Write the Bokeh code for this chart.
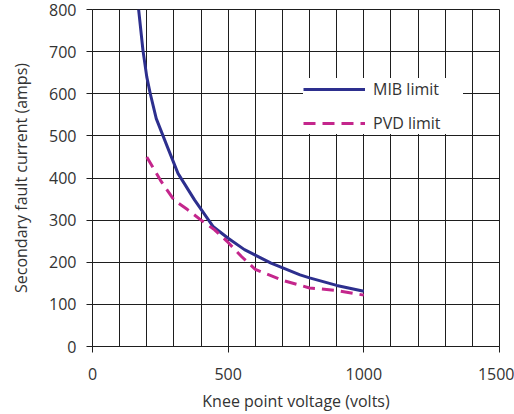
from bokeh.plotting import figure
from bokeh.models import Range1d, SingleIntervalTicker, Legend, LegendItem
from bokeh.embed import file_html
from bokeh.resources import INLINE

# Data
mib_x = [170, 186, 200, 213, 235, 276, 315, 376, 444, 500, 560, 658, 765, 800, 900, 1000]
mib_y = [800, 703, 640, 600, 541, 474, 411, 348, 285, 257, 230, 198, 170, 163, 145, 131]

pvd_x = [200, 250, 300, 350, 400, 450, 500, 550, 600, 700, 800, 900, 1000]
pvd_y = [450, 395, 348, 325, 300, 277, 247, 213, 183, 157, 139, 133, 122]

x_label = "Knee point voltage (volts)"
y_label = "Secondary fault current (amps)"
series_names = ["MIB limit", "PVD limit"]

FONT = "Open Sans"
TXT = "#333333"
GRID = "#1e1e1e"

p = figure(width=514, height=414,
           min_border_left=92, min_border_right=15, min_border_top=9, min_border_bottom=68,
           x_range=Range1d(0, 1500), y_range=Range1d(0, 800),
           output_backend="svg", toolbar_location=None)

p.xaxis.ticker = SingleIntervalTicker(interval=500, num_minor_ticks=5)
p.yaxis.ticker = SingleIntervalTicker(interval=100)

for ax in (p.xaxis[0], p.yaxis[0]):
    ax.axis_line_color = GRID
    ax.major_tick_line_color = GRID
    ax.major_tick_out = 6
    ax.major_tick_in = 0
    ax.minor_tick_line_color = None
    ax.major_label_text_font = FONT
    ax.major_label_text_font_size = "16px"
    ax.major_label_text_color = TXT
    ax.axis_label_text_font = FONT
    ax.axis_label_text_font_size = "16px"
    ax.axis_label_text_font_style = "normal"
    ax.axis_label_text_color = TXT

p.xaxis.axis_label = x_label
p.yaxis.axis_label = y_label
p.xaxis.major_label_standoff = 15
p.xaxis.axis_label_standoff = 7
p.yaxis.major_label_standoff = 10
p.yaxis.axis_label_standoff = 14

p.xgrid.grid_line_color = GRID
p.xgrid.minor_grid_line_color = GRID
p.ygrid.grid_line_color = GRID
p.xgrid.grid_line_alpha = 1
p.ygrid.grid_line_alpha = 1
p.outline_line_color = GRID
p.outline_line_alpha = 1

r1 = p.line(mib_x, mib_y, line_color="#2d2f8e", line_width=3)
r2 = p.line(pvd_x, pvd_y, line_color="#c4268c", line_width=3, line_dash="12 7")

legend = Legend(items=[LegendItem(label=series_names[0], renderers=[r1]),
                       LegendItem(label=series_names[1], renderers=[r2])],
                location=(211, 212))
legend.background_fill_color = "white"
legend.background_fill_alpha = 1
legend.border_line_color = None
legend.padding = 17
legend.margin = 0
legend.spacing = 12
legend.glyph_width = 62
legend.glyph_height = 20
legend.label_height = 20
legend.label_width = 90
legend.label_standoff = 8
legend.label_text_font = FONT
legend.label_text_font_size = "16px"
legend.label_text_color = TXT
p.add_layout(legend, "center")

open("out.html", "w").write(file_html(p, INLINE))
